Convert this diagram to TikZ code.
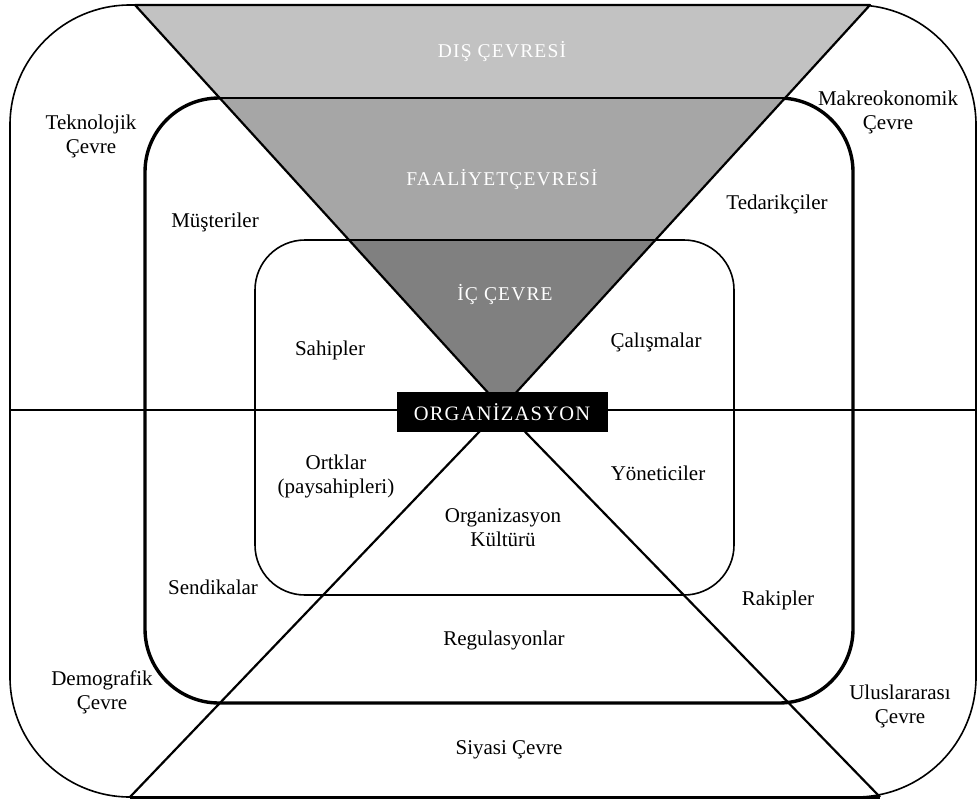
\documentclass[tikz,border=0pt]{standalone}
\usepackage{fontspec}
\setmainfont{Liberation Serif}
\newfontfamily\spacedfont[LetterSpace=6]{Liberation Serif}
\usetikzlibrary{calc}
\begin{document}
\begin{tikzpicture}[x=1pt,y=-1pt,
  lbl/.style={font=\fontsize{21}{24}\selectfont, align=center, inner sep=0pt},
  band/.style={font=\spacedfont\fontsize{19.5}{22}\selectfont, text=white, inner sep=0pt},
  ring/.style={line width=1.6pt},
  edge/.style={line width=2.2pt, line join=round}]
\useasboundingbox (0,0) rectangle (979,801);

% environments as nested rounded frames
\draw[ring, rounded corners=120pt] (10,5) rectangle (976,797);
\draw[line width=3.4pt, rounded corners=74pt] (145,98) rectangle (853,703);
\draw[ring, rounded corners=50pt] (255,240) rectangle (734,595);

% horizontal axis
\coordinate (axL) at (10,410);
\coordinate (axR) at (976,410);
\draw[ring] (axL) -- (axR);

% inverted triangle split into three bands
\coordinate (TL) at (135,5);
\coordinate (TR) at (870,5);
\coordinate (O) at (502,408);
\coordinate (L1) at ($(TL)!0.2308!(O)$);
\coordinate (R1) at ($(TR)!0.2308!(O)$);
\coordinate (L2) at ($(TL)!0.5831!(O)$);
\coordinate (R2) at ($(TR)!0.5831!(O)$);
\fill[black!24] (TL) -- (TR) -- (R1) -- (L1) -- cycle;
\fill[black!35] (L1) -- (R1) -- (R2) -- (L2) -- cycle;
\fill[black!50] (L2) -- (R2) -- (O) -- cycle;
\draw[edge] (TL) -- (TR) -- (O) -- cycle;
\draw[edge] (L1) -- (R1);
\draw[edge] (L2) -- (R2);

% upright triangle below
\coordinate (BL) at (130,797);
\coordinate (BR) at (880,797);
\draw[edge] (BL) -- (O) -- (BR);
\draw[line width=3pt] (BL) -- (BR);

% band titles
\node[band] (dis) at (502,52) {DIŞ ÇEVRESİ};
\node[band] (faal) at (502,180) {FAALİYETÇEVRESİ};
\node[band] (ic) at (505,295) {İÇ ÇEVRE};

% centre
\node[fill=black, text=white, font=\spacedfont\fontsize{20.5}{22}\selectfont,
      minimum width=211pt, minimum height=40pt, inner sep=0pt] (org) at (502,412) {ORGANİZASYON};

% labels
\node[lbl] (tek) at (91,136) {Teknolojik\\Çevre};
\node[lbl] (mak) at (888,112) {Makreokonomik\\Çevre};
\node[lbl] (mus) at (215,222) {Müşteriler};
\node[lbl] (ted) at (777,204) {Tedarikçiler};
\node[lbl] (sah) at (330,350) {Sahipler};
\node[lbl] (cal) at (656,342) {Çalışmalar};
\node[lbl] (ort) at (336,476) {Ortklar\\(paysahipleri)};
\node[lbl] (yon) at (658,473) {Yöneticiler};
\node[lbl] (kul) at (503,528) {Organizasyon\\Kültürü};
\node[lbl] (sen) at (213,587) {Sendikalar};
\node[lbl] (rak) at (778,600) {Rakipler};
\node[lbl] (reg) at (504,640) {Regulasyonlar};
\node[lbl] (dem) at (102,692) {Demografik\\Çevre};
\node[lbl] (ulu) at (900,706) {Uluslararası\\Çevre};
\node[lbl] (siy) at (509,750) {Siyasi Çevre};
\end{tikzpicture}
\end{document}
